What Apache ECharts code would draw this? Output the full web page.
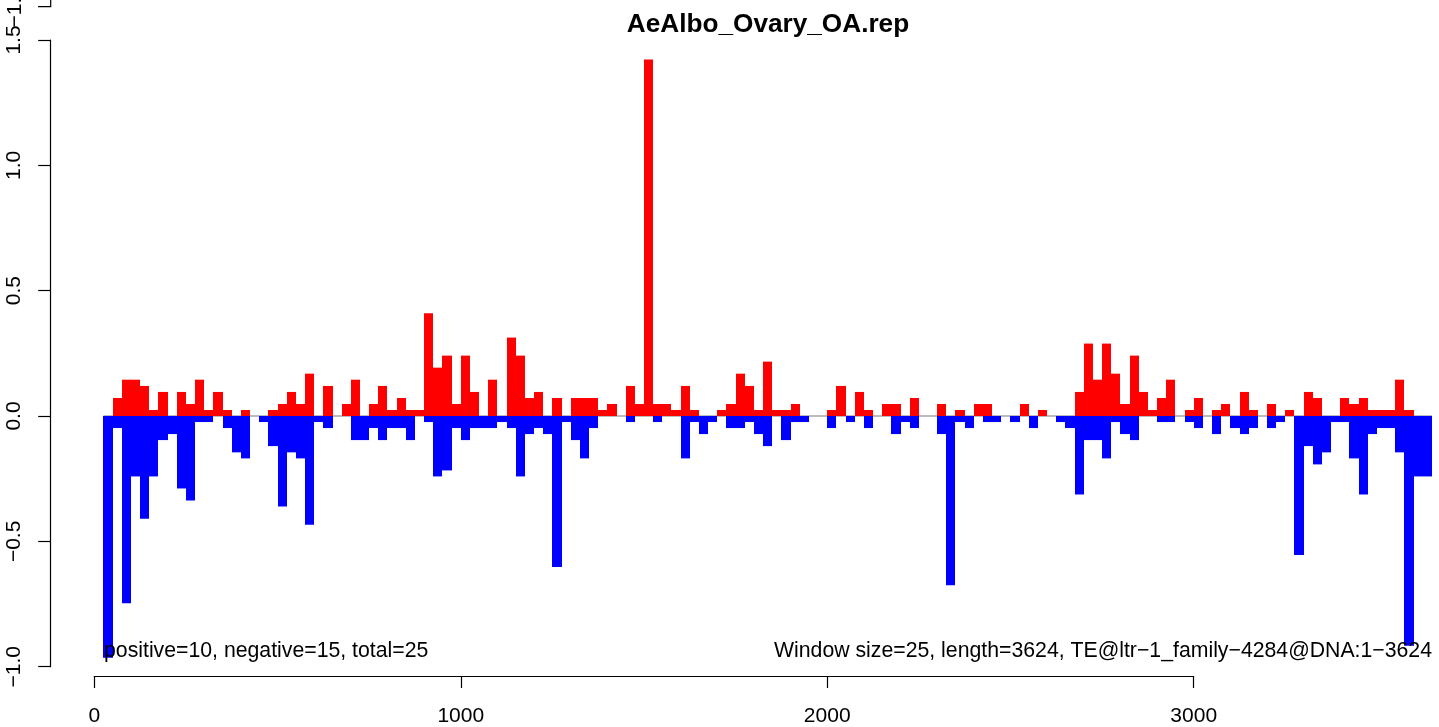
<!DOCTYPE html>
<html>
<head>
<meta charset="utf-8">
<script src="https://cdn.jsdelivr.net/npm/echarts@6/dist/echarts.min.js"></script>
<style>
html,body{margin:0;padding:0;background:#fff;}
#chart{width:1439px;height:727px;}
</style>
</head>
<body>
<div id="chart"></div>
<script>
// ---- data ----
const titleText = 'AeAlbo_Ovary_OA.rep';
const leftNote = 'positive=10, negative=15, total=25';
const rightNote = 'Window size=25, length=3624, TE@ltr\u22121_family\u22124284@DNA:1\u22123624';
const windowSize = 25;
const windowStart = [
  25,50,75,100,125,150,175,200,225,250,
  275,300,325,350,375,400,425,450,475,500,
  525,550,575,600,625,650,675,700,725,750,
  775,800,825,850,875,900,925,950,975,1000,
  1025,1050,1075,1100,1125,1150,1175,1200,1225,1250,
  1275,1300,1325,1350,1375,1400,1425,1450,1475,1500,
  1525,1550,1575,1600,1625,1650,1675,1700,1725,1750,
  1775,1800,1825,1850,1875,1900,1925,1950,1975,2000,
  2025,2050,2075,2100,2125,2150,2175,2200,2225,2250,
  2275,2300,2325,2350,2375,2400,2425,2450,2475,2500,
  2525,2550,2575,2600,2625,2650,2675,2700,2725,2750,
  2775,2800,2825,2850,2875,2900,2925,2950,2975,3000,
  3025,3050,3075,3100,3125,3150,3175,3200,3225,3250,
  3275,3300,3325,3350,3375,3400,3425,3450,3475,3500,
  3525,3550,3575,3600,3625
];
const positiveValues = [
  0, 0.072, 0.145, 0.145, 0.120, 0.024, 0.096, 0, 0.096, 0.048,
  0.145, 0.024, 0.096, 0.024, 0, 0.024, 0, 0, 0.024, 0.048,
  0.096, 0.048, 0.169, 0, 0.120, 0, 0.048, 0.145, 0, 0.048,
  0.120, 0.024, 0.072, 0.024, 0.024, 0.410, 0.193, 0.241, 0.048, 0.241,
  0.096, 0, 0.145, 0, 0.313, 0.241, 0.072, 0.096, 0, 0.072,
  0, 0.072, 0.072, 0.072, 0.024, 0.048, 0, 0.120, 0.048, 1.422,
  0.048, 0.048, 0.024, 0.120, 0.024, 0, 0, 0.024, 0.048, 0.169,
  0.120, 0.024, 0.217, 0.024, 0.024, 0.048, 0, 0, 0, 0.024,
  0.120, 0, 0.096, 0.024, 0, 0.048, 0.048, 0, 0.072, 0,
  0, 0.048, 0, 0.024, 0, 0.048, 0.048, 0, 0, 0,
  0.048, 0, 0.024, 0, 0, 0, 0.096, 0.289, 0.145, 0.289,
  0.169, 0.048, 0.241, 0.096, 0.024, 0.072, 0.145, 0, 0.024, 0.072,
  0, 0.024, 0.048, 0, 0.096, 0.024, 0, 0.048, 0, 0.024,
  0, 0.096, 0.072, 0, 0, 0.072, 0.048, 0.072, 0.024, 0.024,
  0.024, 0.145, 0.024, 0, 0
];
const negativeValues = [
  -0.964, -0.048, -0.747, -0.241, -0.410, -0.241, -0.096, -0.072, -0.289, -0.337,
  -0.024, -0.024, 0, -0.048, -0.145, -0.169, 0, -0.024, -0.120, -0.361,
  -0.145, -0.169, -0.434, -0.024, -0.048, 0, 0, -0.096, -0.096, -0.048,
  -0.096, -0.048, -0.048, -0.096, 0, -0.024, -0.241, -0.217, -0.048, -0.096,
  -0.048, -0.048, -0.048, -0.024, -0.048, -0.241, -0.072, -0.048, -0.072, -0.602,
  -0.024, -0.096, -0.169, -0.048, 0, 0, 0, -0.024, 0, 0,
  -0.024, 0, 0, -0.169, -0.024, -0.072, -0.024, 0, -0.048, -0.048,
  -0.024, -0.072, -0.120, 0, -0.096, -0.024, -0.024, 0, 0, -0.048,
  0, -0.024, 0, -0.048, 0, 0, -0.072, -0.024, -0.048, 0,
  0, -0.072, -0.675, -0.024, -0.048, 0, -0.024, -0.024, 0, -0.024,
  0, -0.048, 0, 0, -0.024, -0.048, -0.313, -0.096, -0.096, -0.169,
  -0.024, -0.072, -0.096, 0, 0, -0.024, -0.024, 0, -0.024, -0.048,
  0, -0.072, 0, -0.048, -0.072, -0.048, 0, -0.048, -0.024, 0,
  -0.554, -0.120, -0.193, -0.145, -0.024, -0.024, -0.169, -0.313, -0.072, -0.048,
  -0.048, -0.145, -0.916, -0.241, -0.241
];
const yTickValues = [-1.0, -0.5, 0.0, 0.5, 1.0, 1.5];
const xTickValues = [0, 1000, 2000, 3000];

// ---- chart ----
const FONT = '"Liberation Sans", Arial, Helvetica, sans-serif';
const chart = echarts.init(document.getElementById('chart'), null, {renderer: 'canvas'});

const posData = windowStart.map((s, i) => [s, s + windowSize, positiveValues[i]]);
const negData = windowStart.map((s, i) => [s, s + windowSize, negativeValues[i]]);

function barRenderer(color) {
  return function (params, api) {
    const v = api.value(2);
    if (!v) return null;
    const p0 = api.coord([api.value(0), 0]);
    const p1 = api.coord([api.value(1), v]);
    const x0 = Math.round(p0[0]), x1 = Math.round(p1[0]);
    const y0 = Math.min(p0[1], p1[1]), y1 = Math.max(p0[1], p1[1]);
    return {
      type: 'rect',
      shape: {x: x0, y: y0, width: x1 - x0, height: y1 - y0},
      style: {fill: color, stroke: null}
    };
  };
}

const pxPerUnit = (1193.7 - 94.3) / 3000;
const gridLeft = 94.3;
const gridTop = 40;
const gridBottom = 727 - 666.7;
const dataMax = windowStart[windowStart.length - 1] + windowSize;
const gridRight = 1439 - (gridLeft + dataMax * pxPerUnit);

const option = {
  animation: false,
  backgroundColor: '#ffffff',
  grid: [
    {left: gridLeft, right: gridRight, top: gridTop, bottom: gridBottom},
    {left: gridLeft, width: 3000 * pxPerUnit, top: gridTop, bottom: gridBottom}
  ],
  xAxis: [
    {gridIndex: 0, type: 'value', min: 0, max: dataMax, show: false},
    {
      gridIndex: 1, type: 'value', min: 0, max: 3000, interval: 1000,
      position: 'bottom', offset: 16.5,
      axisLine: {show: true, onZero: false, lineStyle: {color: '#000', width: 1.2}},
      axisTick: {show: true, length: 12, lineStyle: {color: '#000', width: 1.2}},
      axisLabel: {
        show: true, margin: 30, color: '#000', fontSize: 21, fontFamily: FONT,
        formatter: v => (xTickValues.indexOf(v) >= 0 ? String(v) : '')
      },
      splitLine: {show: false}
    }
  ],
  yAxis: [
    {
      gridIndex: 0, type: 'value', min: -1, max: 1.5, interval: 0.5,
      position: 'left', offset: gridLeft - 50.7,
      axisLine: {show: true, onZero: false, lineStyle: {color: '#000', width: 1.2}},
      axisTick: {show: true, length: 12.5, lineStyle: {color: '#000', width: 1.2}},
      axisLabel: {
        show: true, rotate: 90, margin: 26, color: '#000', fontSize: 21, fontFamily: FONT,
        formatter: v => {
          const t = yTickValues.find(k => Math.abs(k - v) < 1e-9);
          return t === undefined ? '' : t.toFixed(1).replace('-', '\u2212');
        }
      },
      splitLine: {show: false}
    },
    {gridIndex: 1, type: 'value', min: -1, max: 1.5, show: false}
  ],
  series: [
    {
      type: 'line', xAxisIndex: 0, yAxisIndex: 0,
      data: [[windowStart[0], 0], [dataMax, 0]],
      symbol: 'none', silent: true, z: 1,
      lineStyle: {color: '#a6a6a6', width: 1.5}
    },
    {
      type: 'custom', xAxisIndex: 0, yAxisIndex: 0, z: 2,
      renderItem: barRenderer('#ff0000'), data: posData,
      encode: {x: [0, 1], y: 2}
    },
    {
      type: 'custom', xAxisIndex: 0, yAxisIndex: 0, z: 3,
      renderItem: barRenderer('#0000ff'), data: negData,
      encode: {x: [0, 1], y: 2}
    }
  ],
  graphic: [
    {
      type: 'text', x: 768, y: 25, z: 10,
      style: {text: titleText, fontSize: 26.2, fontWeight: 'bold', fontFamily: FONT,
              fill: '#000', align: 'center', verticalAlign: 'middle'}
    },
    {
      type: 'text', x: 104, y: 651, z: 10,
      style: {text: leftNote, fontSize: 21.25, fontFamily: FONT, fill: '#000',
              align: 'left', verticalAlign: 'middle'}
    },
    {
      type: 'text', x: 1432, y: 651, z: 10,
      style: {text: rightNote, fontSize: 21.25, fontFamily: FONT, fill: '#000',
              align: 'right', verticalAlign: 'middle'}
    },
    // clipped extra axis fragment at the very top
    {
      type: 'polyline', z: 10,
      shape: {points: [[50.7, -2], [50.7, 6.7], [38, 6.7]]},
      style: {stroke: '#000', lineWidth: 1.2, fill: null}
    },
    {
      type: 'text', x: 15, y: 6.7, rotation: Math.PI / 2, z: 10,
      style: {text: '\u22121.5', fontSize: 21, fontFamily: FONT, fill: '#000',
              align: 'center', verticalAlign: 'middle'}
    }
  ]
};
chart.setOption(option);
</script>
</body>
</html>
